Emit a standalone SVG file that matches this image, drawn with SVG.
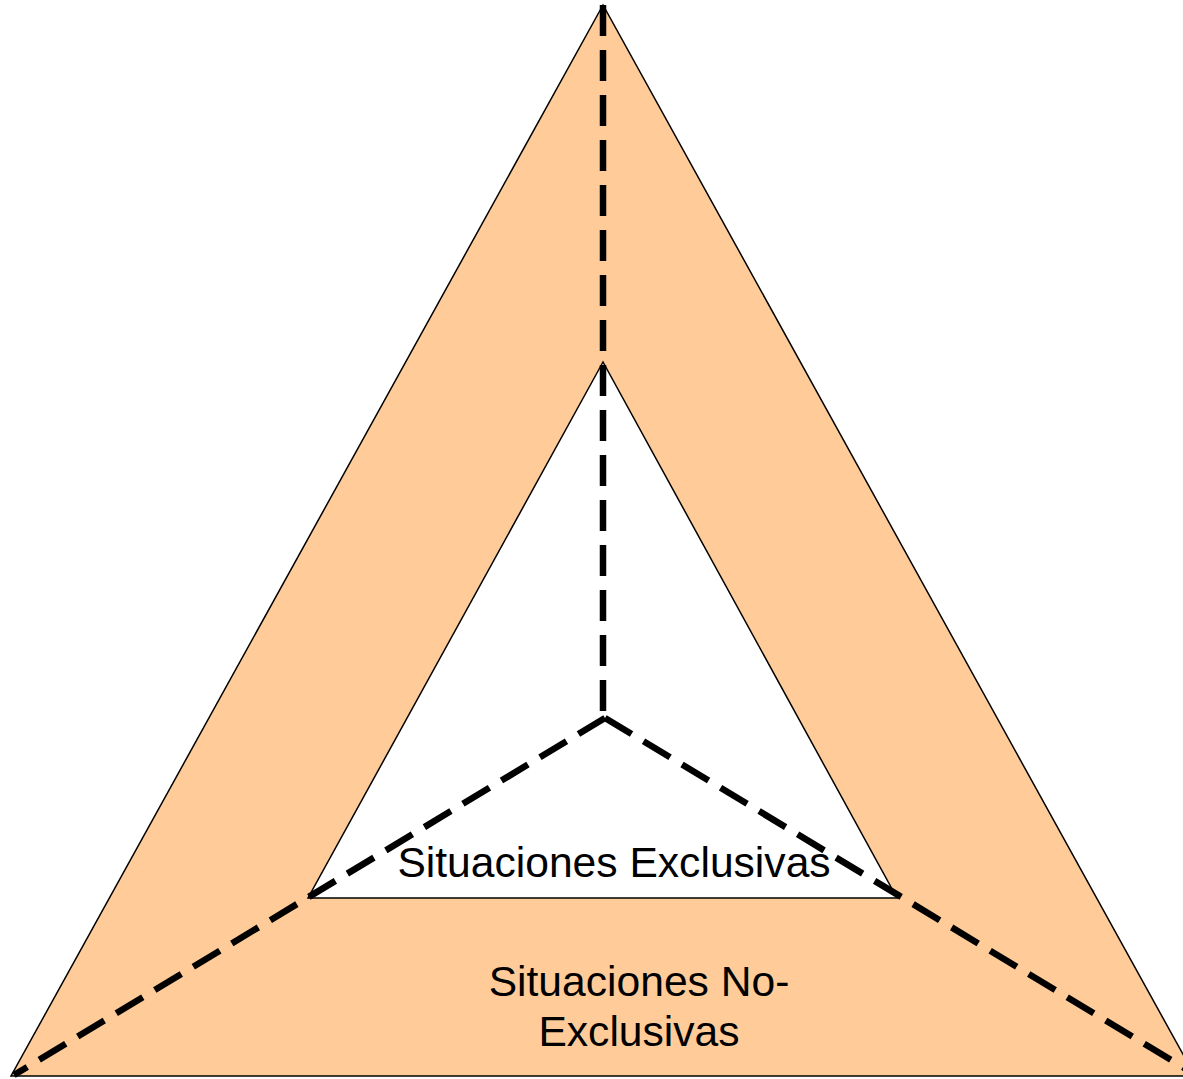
<svg xmlns="http://www.w3.org/2000/svg" width="1183" height="1079" viewBox="0 0 1183 1079">
<style>
.tri{stroke:#000;stroke-width:1.5;stroke-linejoin:miter}
.dash{stroke:#000;stroke-width:6.5;stroke-dasharray:31 14;fill:none}
.lbl{font-family:"Liberation Sans",Arial,sans-serif;font-size:42.6px;fill:#000;text-anchor:middle}
</style>
<rect width="1183" height="1079" fill="#fff"/>
<g id="outer">
<polygon class="tri" points="603,5 11,1076 1195,1076" fill="#FFCC99"/>
</g>
<g id="inner">
<polygon class="tri" points="603,362 308,898 897,898" fill="#fff"/>
</g>
<g id="connectors">
<line class="dash" x1="603" y1="5" x2="603" y2="718"/>
<line class="dash" x1="605" y1="718" x2="14" y2="1075"/>
<line class="dash" x1="605" y1="718" x2="1196" y2="1075"/>
</g>
<g id="label-exclusivas">
<text class="lbl" x="614" y="877">Situaciones Exclusivas</text>
</g>
<g id="label-no-exclusivas">
<text class="lbl" x="639" y="996">Situaciones No-</text>
<text class="lbl" x="639" y="1046">Exclusivas</text>
</g>
</svg>
